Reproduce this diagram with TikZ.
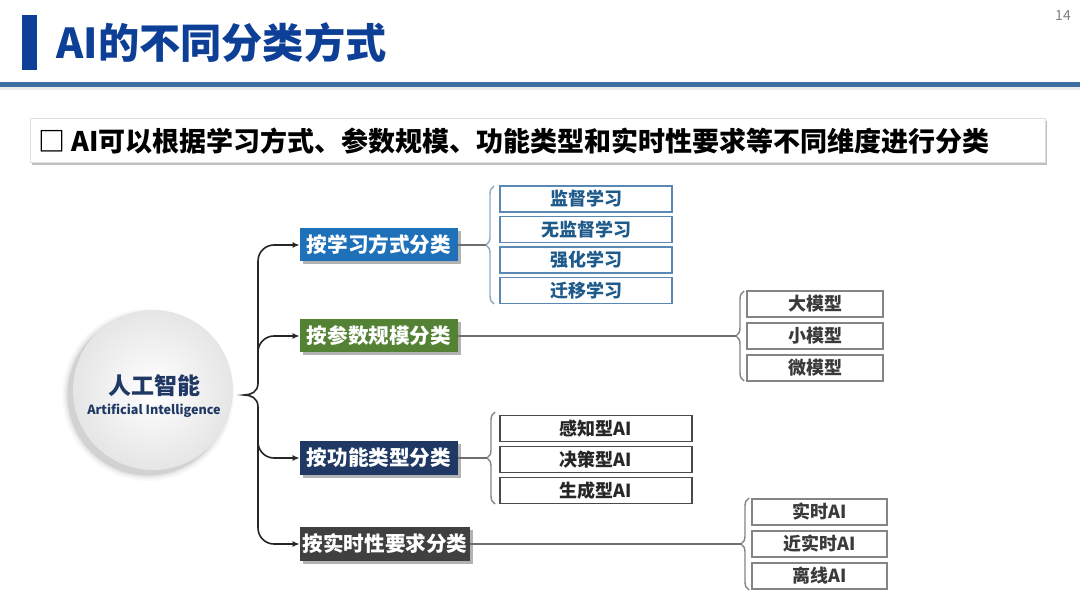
\documentclass[tikz,border=0pt]{standalone}
\usepackage{fontspec}
\setmainfont{Noto Sans CJK SC}
\usetikzlibrary{shadows,decorations.pathreplacing,arrows.meta}
\definecolor{titleblue}{HTML}{0E3F96}
\definecolor{sepblue}{HTML}{3D6FA3}
\definecolor{catA}{HTML}{1E70B8}
\definecolor{catB}{HTML}{548235}
\definecolor{catC}{HTML}{1F3864}
\definecolor{catD}{HTML}{404040}
\definecolor{subAline}{HTML}{5A88B4}
\definecolor{subAtext}{HTML}{1E5A8A}
\definecolor{greyline}{HTML}{858585}
\definecolor{greytext}{HTML}{3A3A3A}
\definecolor{darkline}{HTML}{4A4A4A}
\definecolor{braceA}{HTML}{8FA9C2}
\definecolor{connline}{HTML}{262626}
\begin{document}
\begin{tikzpicture}[x=0.5pt,y=-0.5pt,
  cat/.style={text=white, font=\bfseries\fontsize{10.3pt}{12pt}\selectfont,
    minimum height=16.5pt, inner sep=0pt,
    drop shadow={shadow xshift=1.5pt, shadow yshift=-1.5pt, opacity=0.3, fill=black}},
  subbox/.style={draw, line width=0.6pt, fill=white, minimum height=13pt, inner sep=0pt,
    font=\bfseries\fontsize{9pt}{10pt}\selectfont},
  subA/.style={subbox, draw=subAline, text=subAtext, minimum width=86pt},
  subB/.style={subbox, draw=greyline, text=greytext, minimum width=68pt},
  subC/.style={subbox, draw=darkline, text=black!85, minimum width=96pt},
  subD/.style={subbox, draw=greyline, text=greytext, minimum width=67.5pt},
  bracestyle/.style={decorate, decoration={brace, amplitude=4pt}, line width=0.7pt},
  treeline/.style={draw=connline, line width=0.8pt, rounded corners=8pt,
    -{Latex[length=3.5pt,width=3pt]}},
  flatline/.style={draw=darkline!80, line width=0.8pt}
]
\useasboundingbox (0,0) rectangle (1080,608);
\fill[white] (0,0) rectangle (1080,608);

% title
\fill[titleblue] (22,15) rectangle (37,70);
\node[anchor=west, text=titleblue, font=\bfseries\fontsize{20.6pt}{24pt}\selectfont, inner sep=0pt] (title) at (56,43) {AI的不同分类方式};
\node[text=gray, font=\fontsize{7pt}{8pt}\selectfont, inner sep=0pt] (page) at (1063,16) {14};
\fill[black!8] (0,87) rectangle (1080,90);
\draw[sepblue, line width=2.5pt] (0,85) -- (1080,85);

% subtitle
\node[draw=black!12, fill=white, minimum width=507.5pt, minimum height=22pt, inner sep=0pt,
  drop shadow={shadow xshift=1pt, shadow yshift=-1.5pt, opacity=0.25, fill=black}] (subbar) at (537.5,140) {};
\node[anchor=west, font=\bfseries\fontsize{13.5pt}{16pt}\selectfont, inner sep=0pt] (subtitle) at (38,141) {□ AI可以根据学习方式、参数规模、功能类型和实时性要求等不同维度进行分类};

% circle
\foreach \r/\o in {86/0.025,84/0.035,82/0.05,80.5/0.07}{
  \fill[black, opacity=\o] (148,395) circle (\r);
}
\node[circle, minimum size=80pt, inner sep=0pt, draw=none,
  inner color=white, outer color=black!10] (ai) at (153,390) {};
\node[text=catC, font=\bfseries\fontsize{11.5pt}{13pt}\selectfont, inner sep=0pt] (aiCN) at (154,386) {人工智能};
\node[text=catC, font=\bfseries\fontsize{6.3pt}{7pt}\selectfont, inner sep=0pt] (aiEN) at (154,411) {Artificial Intelligence};

% categories
\node[cat, fill=catA, minimum width=79pt] (c1) at (379,245) {按学习方式分类};
\node[cat, fill=catB, minimum width=79pt] (c2) at (379,336) {按参数规模分类};
\node[cat, fill=catC, minimum width=79pt] (c3) at (379,458) {按功能类型分类};
\node[cat, fill=catD, minimum width=85pt, minimum height=17pt] (c4) at (385,544) {按实时性要求分类};

% tree
\coordinate (hub) at (258,395);
\coordinate (tip) at (244,395);
\draw[connline, line width=0.8pt] (258,383) .. controls (258,392) and (251,395) .. (tip) .. controls (251,395) and (258,398) .. (258,407);
\draw[treeline] (258,383) |- (c1.west);
\draw[treeline] (258,383) |- (c2.west);
\draw[treeline] (258,407) |- (c3.west);
\draw[treeline] (258,407) |- (c4.west);

% group 1
\node[subA] (a1) at (586,199) {监督学习};
\node[subA] (a2) at (586,229.5) {无监督学习};
\node[subA] (a3) at (586,260) {强化学习};
\node[subA] (a4) at (586,290.5) {迁移学习};
\draw[bracestyle, braceA] (494,304) -- (494,186);
\coordinate (t1) at (486,245);
\draw[flatline] (c1.east) -- (t1);

% group 2
\node[subB] (b1) at (815,304) {大模型};
\node[subB] (b2) at (815,336) {小模型};
\node[subB] (b3) at (815,368) {微模型};
\draw[bracestyle, greyline] (744,381) -- (744,291);
\coordinate (t2) at (736,336);
\draw[flatline] (c2.east) -- (t2);

% group 3
\node[subC] (d1) at (596,428.5) {感知型AI};
\node[subC] (d2) at (596,459.5) {决策型AI};
\node[subC] (d3) at (596,490.5) {生成型AI};
\draw[bracestyle, greyline] (495,504) -- (495,412);
\coordinate (t3) at (487,458);
\draw[flatline] (c3.east) -- (t3);

% group 4
\node[subD] (e1) at (819.5,512) {实时AI};
\node[subD] (e2) at (819.5,544) {近实时AI};
\node[subD] (e3) at (819.5,576) {离线AI};
\draw[bracestyle, greyline] (749,590) -- (749,498);
\coordinate (t4) at (741,544);
\draw[flatline] (c4.east) -- (t4);
\end{tikzpicture}
\end{document}
